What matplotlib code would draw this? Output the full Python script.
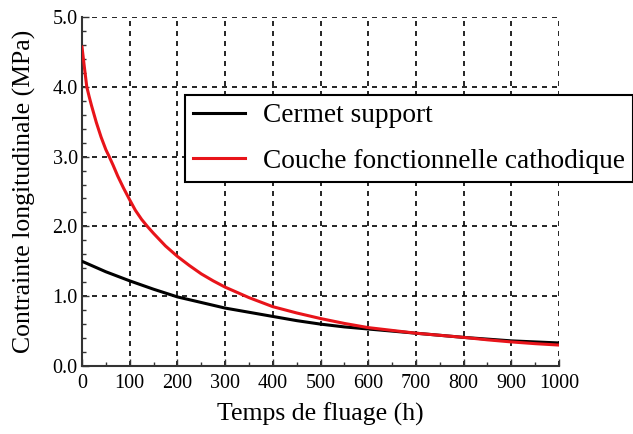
import matplotlib
matplotlib.use("Agg")
import matplotlib.pyplot as plt
from matplotlib.ticker import MultipleLocator, FormatStrFormatter

plt.rcParams['font.family'] = ['Liberation Serif', 'DejaVu Serif']

# values
t_cermet = [0, 50, 100, 150, 200, 250, 300, 350, 400, 450, 500, 550, 600, 650, 700, 750, 800, 850, 900, 950, 1000]
s_cermet = [1.50, 1.35, 1.22, 1.10, 0.99, 0.91, 0.83, 0.77, 0.71, 0.65, 0.60, 0.56, 0.53, 0.50, 0.47, 0.44, 0.41, 0.385, 0.36, 0.345, 0.33]

t_couche = [0, 5, 10, 15, 20, 30, 40, 50, 57, 65, 75, 87, 100, 112, 125, 137, 150, 175, 200, 225, 250, 275, 300, 350, 400, 450, 500, 550, 600, 650, 700, 750, 800, 850, 900, 950, 1000]
s_couche = [4.57, 4.28, 4.00, 3.86, 3.73, 3.49, 3.28, 3.10, 3.00, 2.88, 2.72, 2.55, 2.38, 2.23, 2.10, 2.00, 1.90, 1.72, 1.57, 1.44, 1.32, 1.22, 1.13, 0.98, 0.85, 0.76, 0.68, 0.61, 0.55, 0.51, 0.47, 0.44, 0.41, 0.375, 0.345, 0.32, 0.30]

labels = ['Cermet support', 'Couche fonctionnelle cathodique']

fig = plt.figure(figsize=(6.33, 4.34), dpi=100)
ax = fig.add_axes([82/633, 1-366/434, (559-82)/633, (366-17)/434])

ax.plot(t_cermet, s_cermet, color='black', lw=2.2, label=labels[0], zorder=3)
ax.plot(t_couche, s_couche, color='#e8141a', lw=2.2, label=labels[1], zorder=3)

ax.set_xlim(0, 1000)
ax.set_ylim(0, 5)
ax.xaxis.set_major_locator(MultipleLocator(100))
ax.xaxis.set_minor_locator(MultipleLocator(50))
ax.yaxis.set_major_locator(MultipleLocator(1))
ax.yaxis.set_minor_locator(MultipleLocator(0.2))
ax.yaxis.set_major_formatter(FormatStrFormatter('%.1f'))
ax.tick_params(which='both', direction='in', colors='#333333', labelcolor='black', labelsize=14.5)
ax.tick_params(which='major', length=5, width=1, pad=3)
ax.tick_params(axis='x', which='major', pad=6)
ax.tick_params(which='minor', length=3, width=1)

ax.grid(True, which='major', color='black', linestyle=(0, (3, 3)), lw=1.2)
ax.spines['top'].set_visible(False)
ax.spines['right'].set_visible(False)
for s in ['left', 'bottom']:
    ax.spines[s].set_color('#333333')
    ax.spines[s].set_linewidth(1.5)

ax.set_xlabel('Temps de fluage (h)', fontsize=18.5, labelpad=7)
ax.set_ylabel('Contrainte longitudinale (MPa)', fontsize=18.5, labelpad=12)

leg = ax.legend(loc='upper left', bbox_to_anchor=(185/633, 1-95/434), bbox_transform=fig.transFigure,
                fontsize=19.7, frameon=True, fancybox=False, edgecolor='black', framealpha=1,
                handlelength=1.9, handletextpad=0.65, labelspacing=0.75, borderpad=0.3,
                borderaxespad=0)
leg.get_frame().set_linewidth(1.5)
leg.set_zorder(5)

fig.savefig('out.png', dpi=100)
